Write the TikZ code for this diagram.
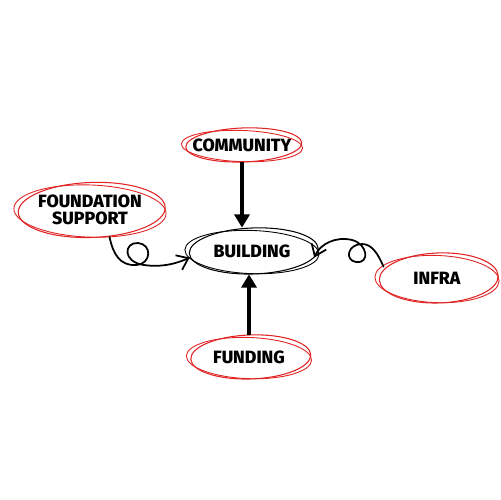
\documentclass[tikz,border=0pt]{standalone}
\usepackage{fontspec}
\setmainfont{Fira Sans}[BoldFont={Fira Sans ExtraBold}]
\usetikzlibrary{arrows.meta,shapes.geometric,calc}
\definecolor{skred}{RGB}{225,35,35}
\newcommand\skell[4]{%
  \draw[#4, line width=0.6pt, rotate around={2:(#1.center)}] ([xshift=1pt]#1.center) ellipse [x radius=#2, y radius=#3];
  \draw[#4, line width=0.5pt, rotate around={-2:(#1.center)}] ([yshift=-0.6pt]#1.center) ellipse [x radius=#2+1.5pt, y radius=#3-0.8pt];
}
\begin{document}
\begin{tikzpicture}[x=0.02cm,y=-0.02cm,
  lbl/.style={ellipse, inner sep=0pt, font=\fontsize{10.1}{11.5}\selectfont\bfseries, align=center},
  sk/.style={line width=1pt, line cap=round},
  varrow/.style={line width=2.2pt, -{Triangle[length=7.5pt,width=8.5pt]}},
  carrow/.style={sk, -{Straight Barb[length=6pt,width=9pt,line width=1pt]}}]
\useasboundingbox (0,0) rectangle (500,500);
\fill[white] (0,0) rectangle (500,500);
\node[lbl, minimum width=2.32cm, minimum height=0.68cm] (cm) at (242,145) {COMMUNITY};
\node[lbl, minimum width=2.58cm, minimum height=0.92cm] (bd) at (252,251) {BUILDING};
\node[lbl, minimum width=2.94cm, minimum height=1.10cm] (fs) at (90,210) {FOUNDATION\\[-2pt]SUPPORT};
\node[lbl, minimum width=2.38cm, minimum height=1.00cm] (ifr) at (437,278) {INFRA};
\node[lbl, minimum width=2.40cm, minimum height=0.88cm] (fd) at (249,357) {FUNDING};
\skell{cm}{1.16cm}{0.34cm}{skred}
\skell{fs}{1.47cm}{0.55cm}{skred}
\skell{ifr}{1.19cm}{0.50cm}{skred}
\skell{fd}{1.20cm}{0.44cm}{skred}
\skell{bd}{1.29cm}{0.46cm}{black}
\draw[varrow] (cm.south) -- (cm.south |- bd.north);
\draw[varrow] (fd.north) -- (fd.north |- bd.south);
\draw[carrow] (fs.-54) .. controls (113,254) and (120,266) .. (136,265)
  .. controls (152,264) and (152,244) .. (138,243)
  .. controls (124,242) and (122,262) .. (144,265)
  .. controls (164,268) and (180,262) .. (bd.186);
\draw[carrow] (ifr.168) .. controls (378,254) and (372,244) .. (362,244)
  .. controls (348,244) and (344,260) .. (356,262)
  .. controls (370,264) and (368,244) .. (352,240)
  .. controls (336,236) and (320,244) .. (bd.-6);
\end{tikzpicture}
\end{document}
